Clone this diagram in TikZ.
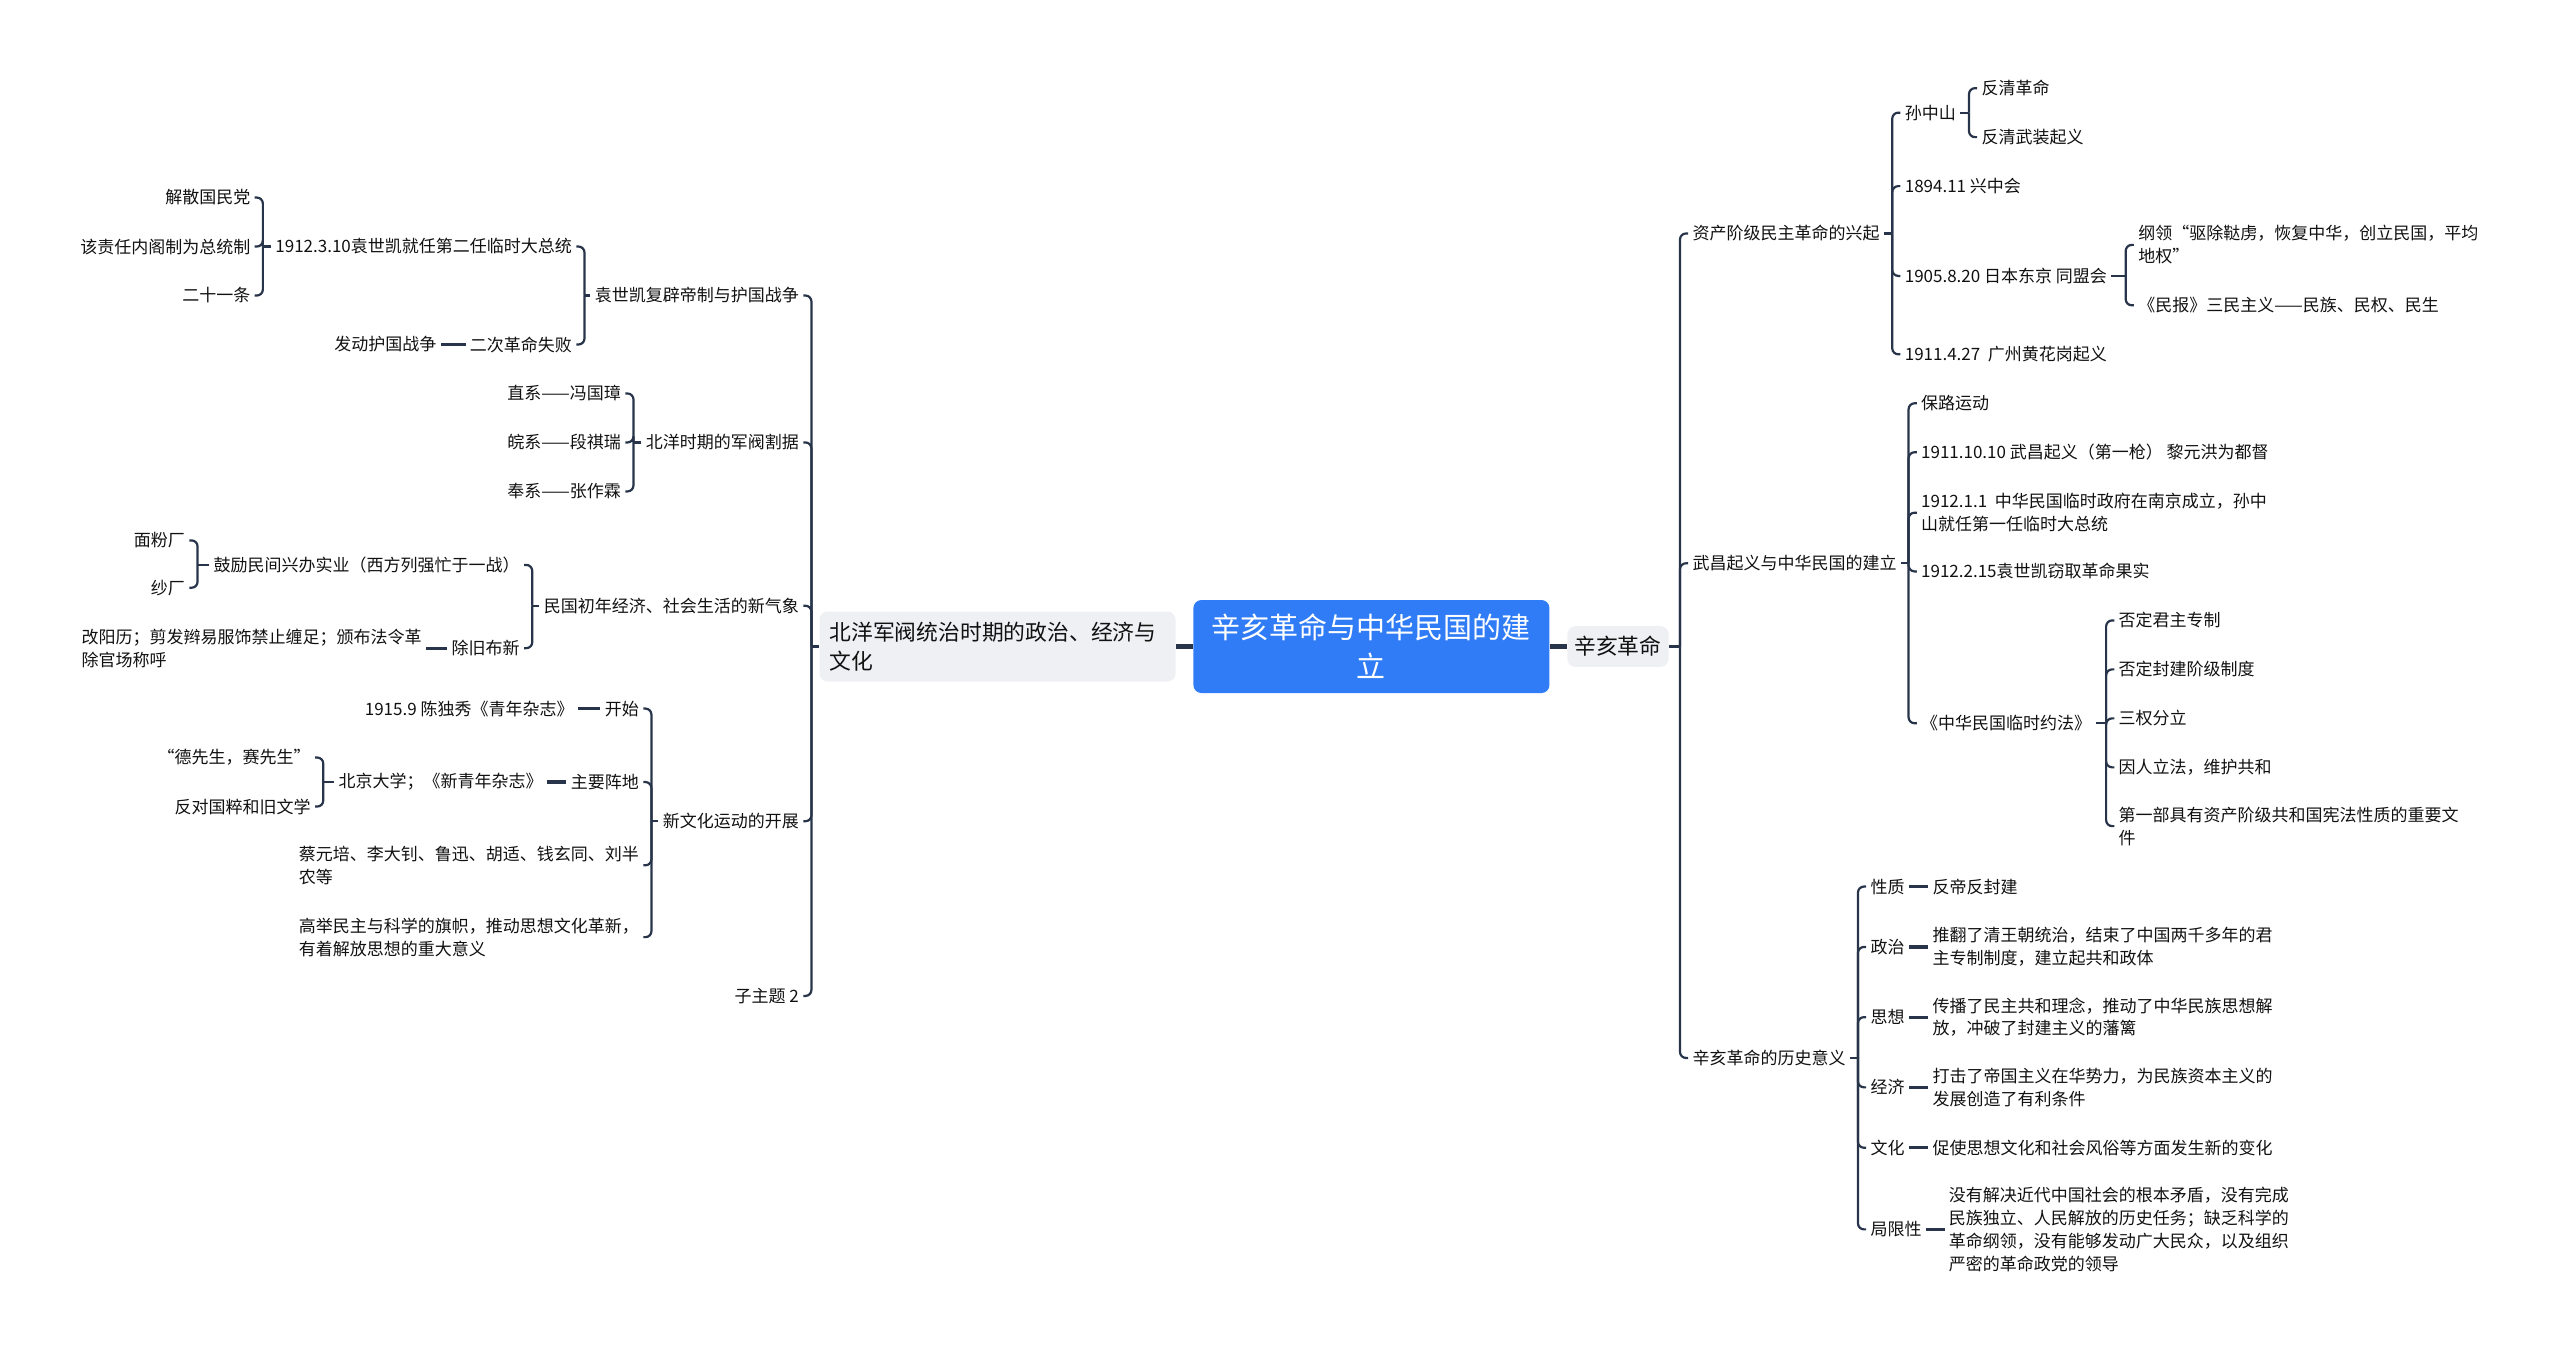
\documentclass[tikz,border=0pt]{standalone}
\usepackage{fontspec}
\setmainfont{Noto Sans CJK SC}
\usepackage{xcolor}
\definecolor{lnc}{HTML}{27344A}
\definecolor{txtc}{HTML}{111111}
\definecolor{rootblue}{HTML}{2F7CF6}
\definecolor{topicgray}{HTML}{EEF0F3}
\tikzset{
  txt/.style={font=\fontsize{8.5}{11.4}\selectfont, inner xsep=2pt, inner ysep=1pt, align=left, text=txtc},
  rootbox/.style={fill=rootblue, rounded corners=4pt, text=white, font=\fontsize{14.5}{19.6}\selectfont,
    minimum width=178pt, minimum height=46.5pt, align=center, inner sep=0pt},
  topicbox/.style={fill=topicgray, rounded corners=4pt, text=txtc, font=\fontsize{10.9}{14.7}\selectfont, inner sep=0pt},
  brline/.style={draw=lnc, line width=1.1pt, rounded corners=3pt},
  dashline/.style={draw=lnc, line width=1.6pt},
  mainline/.style={draw=lnc, line width=2.4pt}
}
\begin{document}
\begin{tikzpicture}[x=0.8163pt,y=-0.8163pt]
\useasboundingbox (0,0) rectangle (1568,828);

% centre and main topics
\node[rootbox] (root) at (840,396) {辛亥革命与中华民国的建\\立};
\node[topicbox, minimum width=178pt, minimum height=35pt, text width=168pt, align=left, inner xsep=5pt] (L) at (611,396) {北洋军阀统治时期的政治、经济与\\文化};
\node[topicbox, minimum width=50.6pt, minimum height=20.4pt] (R) at (991,396) {辛亥革命};
\draw[mainline] (root) -- (L);
\draw[mainline] (root) -- (R);

% ---------------- right: 辛亥革命
\coordinate (tR) at (1029,396);
\node[txt, anchor=west] (B1) at (1034,143) {资产阶级民主革命的兴起};
\node[txt, anchor=west] (B2) at (1034,345) {武昌起义与中华民国的建立};
\node[txt, anchor=west] (B3) at (1034,648) {辛亥革命的历史意义};
\draw[brline] (R.east) -- (tR);
\foreach \c in {B1,B2,B3} \draw[brline] (tR) |- (\c.west);

% 资产阶级民主革命的兴起
\coordinate (tB1) at (1159,143);
\node[txt, anchor=west] (B1a) at (1164,69) {孙中山};
\node[txt, anchor=west] (B1b) at (1164,114) {1894.11 兴中会};
\node[txt, anchor=west] (B1c) at (1164,169) {1905.8.20 日本东京 同盟会};
\node[txt, anchor=west] (B1d) at (1164,217) {1911.4.27~~广州黄花岗起义};
\draw[brline] (B1.east) -- (tB1);
\foreach \c in {B1a,B1b,B1c,B1d} \draw[brline] (tB1) |- (\c.west);

\coordinate (tB1a) at (1206,69);
\node[txt, anchor=west] (B1a1) at (1211,54) {反清革命};
\node[txt, anchor=west] (B1a2) at (1211,84) {反清武装起义};
\draw[brline] (B1a.east) -- (tB1a);
\foreach \c in {B1a1,B1a2} \draw[brline] (tB1a) |- (\c.west);

\coordinate (tB1c) at (1302,169);
\node[txt, anchor=west] (B1c1) at (1307,150) {纲领“驱除鞑虏，恢复中华，创立民国，平均\\地权”};
\node[txt, anchor=west] (B1c2) at (1307,187) {《民报》三民主义——民族、民权、民生};
\draw[brline] (B1c.east) -- (tB1c);
\foreach \c in {B1c1,B1c2} \draw[brline] (tB1c) |- (\c.west);

% 武昌起义与中华民国的建立
\coordinate (tB2) at (1169,345);
\node[txt, anchor=west] (B2a) at (1174,247) {保路运动};
\node[txt, anchor=west] (B2b) at (1174,277) {1911.10.10 武昌起义（第一枪）~黎元洪为都督};
\node[txt, anchor=west] (B2c) at (1174,314) {1912.1.1~~中华民国临时政府在南京成立，孙中\\山就任第一任临时大总统};
\node[txt, anchor=west] (B2d) at (1174,350) {1912.2.15袁世凯窃取革命果实};
\node[txt, anchor=west] (B2e) at (1174,443) {《中华民国临时约法》};
\draw[brline] (B2.east) -- (tB2);
\foreach \c in {B2a,B2b,B2c,B2d,B2e} \draw[brline] (tB2) |- (\c.west);

\coordinate (tB2e) at (1290,443);
\node[txt, anchor=west] (B2e1) at (1295,380) {否定君主专制};
\node[txt, anchor=west] (B2e2) at (1295,410) {否定封建阶级制度};
\node[txt, anchor=west] (B2e3) at (1295,440) {三权分立};
\node[txt, anchor=west] (B2e4) at (1295,470) {因人立法，维护共和};
\node[txt, anchor=west] (B2e5) at (1295,506) {第一部具有资产阶级共和国宪法性质的重要文\\件};
\draw[brline] (B2e.east) -- (tB2e);
\foreach \c in {B2e1,B2e2,B2e3,B2e4,B2e5} \draw[brline] (tB2e) |- (\c.west);

% 辛亥革命的历史意义
\coordinate (tB3) at (1138,648);
\node[txt, anchor=west] (B3a) at (1143,543) {性质};
\node[txt, anchor=west] (B3b) at (1143,580) {政治};
\node[txt, anchor=west] (B3c) at (1143,623) {思想};
\node[txt, anchor=west] (B3d) at (1143,666) {经济};
\node[txt, anchor=west] (B3e) at (1143,703) {文化};
\node[txt, anchor=west] (B3f) at (1143,753) {局限性};
\draw[brline] (B3.east) -- (tB3);
\foreach \c in {B3a,B3b,B3c,B3d,B3e,B3f} \draw[brline] (tB3) |- (\c.west);

\node[txt, anchor=west] (B3a1) at (1181,543) {反帝反封建};
\node[txt, anchor=west] (B3b1) at (1181,580) {推翻了清王朝统治，结束了中国两千多年的君\\主专制制度，建立起共和政体};
\node[txt, anchor=west] (B3c1) at (1181,623) {传播了民主共和理念，推动了中华民族思想解\\放，冲破了封建主义的藩篱};
\node[txt, anchor=west] (B3d1) at (1181,666) {打击了帝国主义在华势力，为民族资本主义的\\发展创造了有利条件};
\node[txt, anchor=west] (B3e1) at (1181,703) {促使思想文化和社会风俗等方面发生新的变化};
\node[txt, anchor=west] (B3f1) at (1191,753) {没有解决近代中国社会的根本矛盾，没有完成\\民族独立、人民解放的历史任务；缺乏科学的\\革命纲领，没有能够发动广大民众，以及组织\\严密的革命政党的领导};
\foreach \c in {B3a,B3b,B3c,B3d,B3e,B3f} \draw[dashline] (\c.east) -- (\c1.west);

% ---------------- left: 北洋军阀统治时期
\coordinate (tL) at (497,396);
\node[txt, anchor=east] (A1) at (492,181) {袁世凯复辟帝制与护国战争};
\node[txt, anchor=east] (A2) at (492,271) {北洋时期的军阀割据};
\node[txt, anchor=east] (A3) at (492,371) {民国初年经济、社会生活的新气象};
\node[txt, anchor=east] (A4) at (492,503) {新文化运动的开展};
\node[txt, anchor=east] (A5) at (492,610) {子主题 2};
\draw[brline] (L.west) -- (tL);
\foreach \c in {A1,A2,A3,A4,A5} \draw[brline] (tL) |- (\c.east);

% 袁世凯复辟帝制与护国战争
\coordinate (tA1) at (358,181);
\node[txt, anchor=east] (A1a) at (353,151) {1912.3.10袁世凯就任第二任临时大总统};
\node[txt, anchor=east] (A1b) at (353,211) {二次革命失败};
\draw[brline] (A1.west) -- (tA1);
\foreach \c in {A1a,A1b} \draw[brline] (tA1) |- (\c.east);

\coordinate (tA1a) at (161,151);
\node[txt, anchor=east] (A1a1) at (156,121) {解散国民党};
\node[txt, anchor=east] (A1a2) at (156,151) {该责任内阁制为总统制};
\node[txt, anchor=east] (A1a3) at (156,181) {二十一条};
\draw[brline] (A1a.west) -- (tA1a);
\foreach \c in {A1a1,A1a2,A1a3} \draw[brline] (tA1a) |- (\c.east);

\node[txt, anchor=east] (A1b1) at (270,211) {发动护国战争};
\draw[dashline] (A1b.west) -- (A1b1.east);

% 北洋时期的军阀割据
\coordinate (tA2) at (388,271);
\node[txt, anchor=east] (A2a) at (383,241) {直系——冯国璋};
\node[txt, anchor=east] (A2b) at (383,271) {皖系——段祺瑞};
\node[txt, anchor=east] (A2c) at (383,301) {奉系——张作霖};
\draw[brline] (A2.west) -- (tA2);
\foreach \c in {A2a,A2b,A2c} \draw[brline] (tA2) |- (\c.east);

% 民国初年经济、社会生活的新气象
\coordinate (tA3) at (326,371);
\node[txt, anchor=east] (A3a) at (321,346) {鼓励民间兴办实业（西方列强忙于一战）};
\node[txt, anchor=east] (A3b) at (321,397) {除旧布新};
\draw[brline] (A3.west) -- (tA3);
\foreach \c in {A3a,A3b} \draw[brline] (tA3) |- (\c.east);

\coordinate (tA3a) at (121,346);
\node[txt, anchor=east] (A3a1) at (116,331) {面粉厂};
\node[txt, anchor=east] (A3a2) at (116,360) {纱厂};
\draw[brline] (A3a.west) -- (tA3a);
\foreach \c in {A3a1,A3a2} \draw[brline] (tA3a) |- (\c.east);

\node[txt, anchor=east] (A3b1) at (261,397) {改阳历；剪发辫易服饰禁止缠足；颁布法令革\\除官场称呼};
\draw[dashline] (A3b.west) -- (A3b1.east);

% 新文化运动的开展
\coordinate (tA4) at (399,503);
\node[txt, anchor=east] (A4a) at (394,434) {开始};
\node[txt, anchor=east] (A4b) at (394,479) {主要阵地};
\node[txt, anchor=east] (A4c) at (394,530) {蔡元培、李大钊、鲁迅、胡适、钱玄同、刘半\\农等};
\node[txt, anchor=east] (A4d) at (394,574) {高举民主与科学的旗帜，推动思想文化革新，\\有着解放思想的重大意义};
\draw[brline] (A4.west) -- (tA4);
\foreach \c in {A4a,A4b,A4c,A4d} \draw[brline] (tA4) |- (\c.east);

\node[txt, anchor=east] (A4a1) at (354,434) {1915.9 陈独秀《青年杂志》};
\draw[dashline] (A4a.west) -- (A4a1.east);
\node[txt, anchor=east] (A4b1) at (335,479) {北京大学；《新青年杂志》};
\draw[dashline] (A4b.west) -- (A4b1.east);

\coordinate (tA4b1) at (198,479);
\node[txt, anchor=east] (A4b11) at (193,464) {“德先生，赛先生”};
\node[txt, anchor=east] (A4b12) at (193,494) {反对国粹和旧文学};
\draw[brline] (A4b1.west) -- (tA4b1);
\foreach \c in {A4b11,A4b12} \draw[brline] (tA4b1) |- (\c.east);

\end{tikzpicture}
\end{document}
